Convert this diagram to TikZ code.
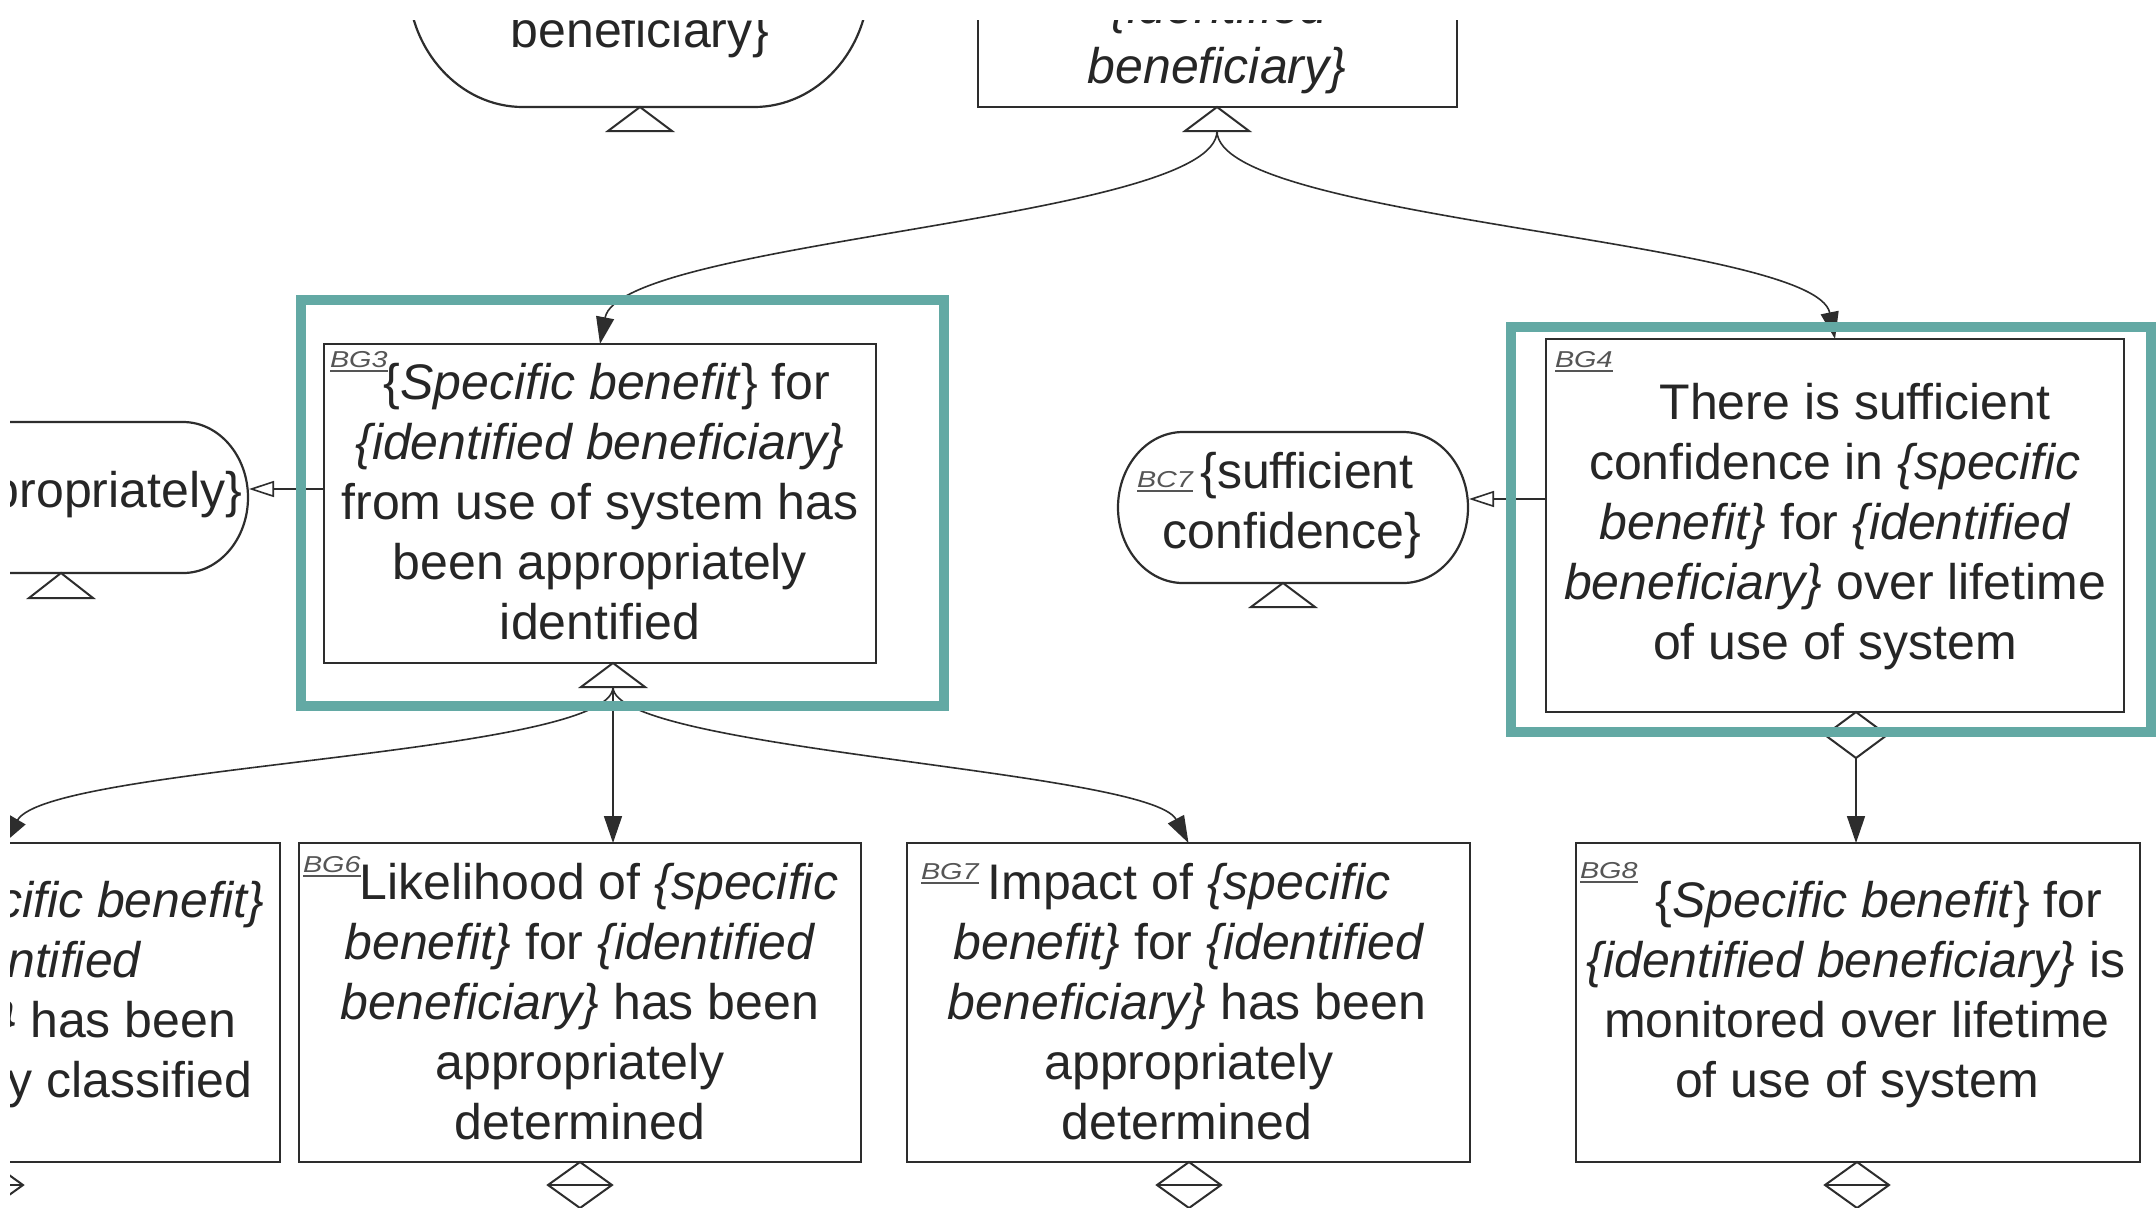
\documentclass[tikz,border=0pt]{standalone}
\usepackage{fontspec}
\setmainfont{Liberation Sans}
\usepackage{graphicx}
\usetikzlibrary{arrows.meta,fit,calc}
\definecolor{frameteal}{RGB}{99,169,164}
\definecolor{linecol}{RGB}{45,45,45}
\definecolor{txtcol}{RGB}{38,38,38}
\definecolor{labcol}{RGB}{85,85,85}
\newcommand{\lbl}[1]{\scalebox{1.25}[1]{#1}}
\begin{document}
\begin{tikzpicture}[x=0.5pt,y=-0.5pt,
 box/.style={draw=linecol, line width=1.1pt, inner sep=0pt, outer sep=0pt},
 helper/.style={inner sep=0pt, outer sep=0pt},
 ctxshape/.style={draw=linecol, line width=1.1pt},
 tx/.style={anchor=base, inner sep=0pt, outer sep=0pt, text=txtcol, font=\fontsize{25}{30}\selectfont},
 txr/.style={tx, anchor=base east},
 lab/.style={anchor=base west, inner sep=0pt, outer sep=0pt, text=labcol, font=\fontsize{11.5}{12}\selectfont\itshape},
 labline/.style={draw=labcol, line width=0.7pt},
 conn/.style={draw=linecol, line width=0.8pt, -{Triangle[length=13.5pt,width=9pt]}},
 inctx/.style={draw=linecol, line width=0.8pt, -{Triangle[length=12.5pt,width=8pt,fill=white]}},
 marker/.style={draw=linecol, line width=1pt, fill=white, line join=miter},
 midline/.style={draw=linecol, line width=1pt},
 hl/.style={draw=frameteal, line width=5pt}
]
\useasboundingbox (0,0) rectangle (2156,1207);
\fill[white] (0,0) rectangle (2156,1207);
\begin{scope}
\clip (10,20) rectangle (2156,1207);

% ---------- boxes (goals) ----------
\node[box, fit={(978,-200) (1457,107)}] (gTop) {};
\node[box, fit={(324,344) (876,663)}] (BG3) {};
\node[box, fit={(1546,339) (2124,712)}] (BG4) {};
\node[box, fit={(-298,843) (280,1162)}] (BG5) {};
\node[box, fit={(299,843) (861,1162)}] (BG6) {};
\node[box, fit={(907,843) (1470,1162)}] (BG7) {};
\node[box, fit={(1576,843) (2140,1162)}] (BG8) {};

% ---------- context shapes ----------
\node[helper, fit={(408,-147) (869,107)}] (ctxTop) {};
\draw[ctxshape] (523,-147) -- (754,-147) arc[start angle=-90, end angle=90, x radius=115, y radius=127]
  -- (523,107) arc[start angle=90, end angle=270, x radius=115, y radius=127] -- cycle;
\node[helper, fit={(-126,422) (248,573)}] (ctxL) {};
\draw[ctxshape] (-61,422) -- (183,422) arc[start angle=-90, end angle=90, x radius=65, y radius=75.5]
  -- (-61,573) arc[start angle=90, end angle=270, x radius=65, y radius=75.5] -- cycle;
\node[helper, fit={(1118,432) (1468,583)}] (BC7) {};
\draw[ctxshape] (1183,432) -- (1403,432) arc[start angle=-90, end angle=90, x radius=65, y radius=75.5]
  -- (1183,583) arc[start angle=90, end angle=270, x radius=65, y radius=75.5] -- cycle;

% ---------- texts ----------
\node[tx] (ctxTopT) at (640,47) {beneficiary\}};
\node[tx] (gTopT1) at (1220,23) {\textit{\{identified}};
\node[tx] (gTopT2) at (1217,83) {\textit{beneficiary\}}};
\node[txr] (ctxLT) at (242,507) {\{appropriately\}};

\node[lab] (BG3lab) at (330,367) {\lbl{BG3}};
\node[tx] (BG3a) at (607,399) {\{\textit{Specific benefit}\} for};
\node[tx] (BG3b) at (600,459) {\textit{\{identified beneficiary\}}};
\node[tx] (BG3c) at (600,519) {from use of system has};
\node[tx] (BG3d) at (600,579) {been appropriately};
\node[tx] (BG3e) at (600,639) {identified};

\node[lab] (BG4lab) at (1555,367) {\lbl{BG4}};
\node[tx] (BG4a) at (1855,419) {There is sufficient};
\node[tx] (BG4b) at (1835,479) {confidence in \textit{\{specific}};
\node[tx] (BG4c) at (1835,539) {\textit{benefit\}} for \textit{\{identified}};
\node[tx] (BG4d) at (1835,599) {\textit{beneficiary\}} over lifetime};
\node[tx] (BG4e) at (1835,659) {of use of system};

\node[lab] (BC7lab) at (1137,487) {\lbl{BC7}};
\node[tx] (BC7a) at (1307,488) {\{sufficient};
\node[tx] (BC7b) at (1292,548) {confidence\}};

\node[txr] (BG5a) at (264,917) {\textit{\{specific benefit\}}};
\node[txr] (BG5b) at (142,977) {\textit{\{identified}};
\node[txr] (BG5c) at (236,1037) {\textit{beneficiary\}} has been};
\node[txr] (BG5d) at (252,1097) {appropriately classified};

\node[lab] (BG6lab) at (303,872) {\lbl{BG6}};
\node[tx] (BG6a) at (599,899) {Likelihood of \textit{\{specific}};
\node[tx] (BG6b) at (580,959) {\textit{benefit\}} for \textit{\{identified}};
\node[tx] (BG6c) at (580,1019) {\textit{beneficiary\}} has been};
\node[tx] (BG6d) at (580,1079) {appropriately};
\node[tx] (BG6e) at (580,1139) {determined};

\node[lab] (BG7lab) at (921,879) {\lbl{BG7}};
\node[tx] (BG7a) at (1189,899) {Impact of \textit{\{specific}};
\node[tx] (BG7b) at (1189,959) {\textit{benefit\}} for \textit{\{identified}};
\node[tx] (BG7c) at (1187,1019) {\textit{beneficiary\}} has been};
\node[tx] (BG7d) at (1189,1079) {appropriately};
\node[tx] (BG7e) at (1187,1139) {determined};

\node[lab] (BG8lab) at (1580,878) {\lbl{BG8}};
\node[tx] (BG8a) at (1879,917) {\{\textit{Specific benefit}\} for};
\node[tx] (BG8b) at (1856,977) {\textit{\{identified beneficiary\}} is};
\node[tx] (BG8c) at (1857,1037) {monitored over lifetime};
\node[tx] (BG8d) at (1857,1097) {of use of system};

\foreach \n in {BG3lab,BG4lab,BC7lab,BG6lab,BG7lab,BG8lab}{
  \draw[labline] ($(\n.base west)+(0,4)$) -- ($(\n.base east)+(0,4)$);
}

% ---------- connectors ----------
\coordinate (triTop) at (1217,131);
\draw[conn] (triTop) .. controls (1217,220) and (620,240) .. (BG3.north);
\draw[conn] (triTop) .. controls (1217,220) and (1815,240) .. (BG4.north);

\coordinate (ctxLin) at (249,489);
\draw[inctx] (BG3.west |- ctxLin) -- (ctxLin);
\coordinate (bc7in) at (1469,499);
\draw[inctx] (BG4.west |- bc7in) -- (bc7in);

\coordinate (triB3) at (613,687);
\coordinate (BG5in) at (4,843);
\draw[conn] (triB3) -- (triB3 |- BG6.north);
\draw[conn] (triB3) .. controls (613,755) and (50,765) .. (BG5in);
\draw[conn] (triB3) .. controls (613,750) and (1150,770) .. (BG7.north);

\coordinate (dB4) at (1856,758);
\draw[conn] (dB4) -- (dB4 |- BG8.north);

% ---------- markers ----------
\draw[marker] (640,107) -- (672,131) -- (608,131) -- cycle;
\draw[marker] (1217,107) -- (1249,131) -- (1185,131) -- cycle;
\draw[marker] (61,573) -- (93,598) -- (29,598) -- cycle;
\draw[marker] (613,663) -- (645,687) -- (581,687) -- cycle;
\draw[marker] (1283,583) -- (1315,607) -- (1251,607) -- cycle;

\draw[marker] (1856,712) -- (1887,735) -- (1856,758) -- (1825,735) -- cycle;
\draw[midline] (1825,735) -- (1887,735);
\foreach \cx in {-9,580,1189,1857}{
  \draw[marker] (\cx,1162) -- (\cx+32,1185) -- (\cx,1208) -- (\cx-32,1185) -- cycle;
  \draw[midline] (\cx-32,1185) -- (\cx+32,1185);
}

% ---------- highlight frames ----------
\draw[hl] (301,300) rectangle (944,706);
\draw[hl] (1511,327) rectangle (2151,732);
\end{scope}
\end{tikzpicture}
\end{document}
